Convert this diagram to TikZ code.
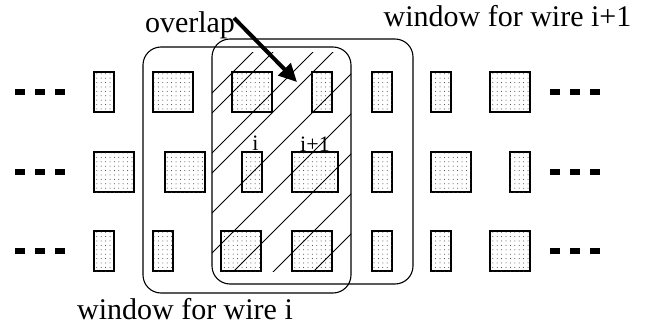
\documentclass[tikz,border=0pt]{standalone}
\usepackage{fontspec}
\setmainfont{Liberation Serif}
\usetikzlibrary{patterns.meta,arrows.meta}
\begin{document}
\begin{tikzpicture}[x=1pt,y=-1pt,
  cell/.style={draw=black, line width=1.1pt, fill=white,
    postaction={pattern={Dots[distance=4.4pt,radius=0.5pt]}, pattern color=black!80},
    inner sep=0pt, outer sep=0pt, minimum height=40pt},
  winbox/.style={draw=black, line width=1.1pt, rounded corners=18pt, inner sep=0pt, outer sep=0pt},
  hatchline/.style={draw=black, line width=0.9pt},
  dots3/.style={line width=6.5pt, dash pattern=on 10pt off 10pt},
  bigtext/.style={anchor=base, inner sep=0pt, font=\fontsize{30}{36}\selectfont},
  smalltext/.style={anchor=base, inner sep=0pt, font=\fontsize{22}{26}\selectfont},
  pointer/.style={line width=4pt, -{Triangle[length=18pt,width=17pt]}}]
\path[use as bounding box, fill=white] (0,0) rectangle (649,329);

% squares, row 1
\node[cell, minimum width=20pt] (r1a) at (104,92) {};
\node[cell, minimum width=40pt] (r1b) at (173,92) {};
\node[cell, minimum width=40pt] (r1c) at (252,92) {};
\node[cell, minimum width=20pt] (r1d) at (322,92) {};
\node[cell, minimum width=20pt] (r1e) at (382,92) {};
\node[cell, minimum width=20pt] (r1f) at (441,92) {};
\node[cell, minimum width=40pt] (r1g) at (510,92) {};
% row 2
\node[cell, minimum width=40pt] (r2a) at (114,172) {};
\node[cell, minimum width=40pt] (r2b) at (185,172) {};
\node[cell, minimum width=20pt] (r2c) at (252,172) {};
\node[cell, minimum width=46pt] (r2d) at (315,172) {};
\node[cell, minimum width=20pt] (r2e) at (382,172) {};
\node[cell, minimum width=40pt] (r2f) at (451,172) {};
\node[cell, minimum width=20pt] (r2g) at (520,172) {};
% row 3
\node[cell, minimum width=20pt] (r3a) at (104,251) {};
\node[cell, minimum width=20pt] (r3b) at (163,251) {};
\node[cell, minimum width=40pt] (r3c) at (241,251) {};
\node[cell, minimum width=40pt] (r3d) at (312,251) {};
\node[cell, minimum width=20pt] (r3e) at (382,251) {};
\node[cell, minimum width=20pt] (r3f) at (441,251) {};
\node[cell, minimum width=40pt] (r3g) at (510,251) {};

% hatching of the overlap
\begin{scope}
  \clip (212,53) rectangle (351,271);
  \foreach \c in {305,325,365,385,425,465,505,545,585}
    \draw[hatchline] (\c-300,300) -- (\c,0);
\end{scope}

% windows
\node[winbox, minimum width=208pt, minimum height=246pt] (wini) at (247,170) {};
\node[winbox, minimum width=201pt, minimum height=245pt] (winj) at (312.5,161.5) {};

% ellipsis dashes
\draw[dots3] (15,92) -- (65,92);
\draw[dots3] (15,172) -- (65,172);
\draw[dots3] (15,251) -- (65,251);
\draw[dots3] (550,92) -- (600,92);
\draw[dots3] (550,172) -- (600,172);
\draw[dots3] (550,251) -- (600,251);

% labels
\node[bigtext] (lovl) at (190,33) {overlap};
\node[bigtext] (lwj) at (507.5,27) {window for wire i+1};
\node[bigtext] (lwi) at (185,319) {window for wire i};
\node[smalltext] (li) at (255.5,150) {i};
\node[smalltext] (lj) at (315,151) {i+1};

% arrow
\coordinate (atail) at (234,18);
\coordinate (ahead) at (297,82);
\draw[pointer] (atail) -- (ahead);
\end{tikzpicture}
\end{document}
